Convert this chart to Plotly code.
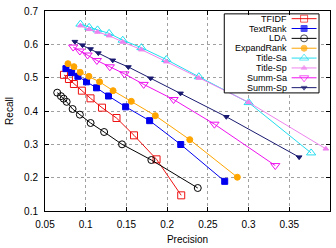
import plotly.graph_objects as go

# ---------------- data ----------------
tfidf_p = [0.0733, 0.0794, 0.0855, 0.0953, 0.1059, 0.1200, 0.1378, 0.1593, 0.1870, 0.2173]
tfidf_r = [0.5085, 0.4960, 0.4810, 0.4610, 0.4380, 0.4100, 0.3790, 0.3270, 0.2550, 0.1470]

textrank_p = [0.0757, 0.0827, 0.0904, 0.1010, 0.1133, 0.1280, 0.1490, 0.1785, 0.2167, 0.2707]
textrank_r = [0.5270, 0.5150, 0.5040, 0.4875, 0.4695, 0.4450, 0.4125, 0.3710, 0.2995, 0.1890]

lda_p = [0.0650, 0.0696, 0.0729, 0.0766, 0.0839, 0.0928, 0.1060, 0.1226, 0.1446, 0.1806, 0.2376]
lda_r = [0.4550, 0.4445, 0.4370, 0.4275, 0.4060, 0.3890, 0.3640, 0.3370, 0.3000, 0.2530, 0.1690]

expand_p = [0.0782, 0.0855, 0.0932, 0.1039, 0.1170, 0.1336, 0.1560, 0.1855, 0.2278, 0.2862]
expand_r = [0.5420, 0.5330, 0.5160, 0.5040, 0.4875, 0.4610, 0.4290, 0.3860, 0.3140, 0.2013]

titlesa_p = [0.0935, 0.1042, 0.1145, 0.1287, 0.1455, 0.1684, 0.1990, 0.2389, 0.3001, 0.3768]
titlesa_r = [0.6607, 0.6510, 0.6434, 0.6330, 0.6124, 0.5900, 0.5544, 0.5028, 0.4252, 0.2742]

titlesp_p = [0.0935, 0.1042, 0.1145, 0.1287, 0.1455, 0.1684, 0.1990, 0.2389, 0.3001, 0.3949]
titlesp_r = [0.6560, 0.6450, 0.6370, 0.6260, 0.6070, 0.5840, 0.5480, 0.4990, 0.4260, 0.2866]

summsa_p = [0.0846, 0.0928, 0.1023, 0.1137, 0.1296, 0.1476, 0.1712, 0.2079, 0.2581, 0.3328]
summsa_r = [0.5918, 0.5800, 0.5680, 0.5516, 0.5326, 0.5114, 0.4798, 0.4344, 0.3604, 0.2363]

summsp_p = [0.0867, 0.0961, 0.1059, 0.1155, 0.1332, 0.1524, 0.1797, 0.2164, 0.2727, 0.3621]
summsp_r = [0.6081, 0.5975, 0.5860, 0.5737, 0.5521, 0.5320, 0.4982, 0.4530, 0.3827, 0.2616]

series_names = ["TFIDF", "TextRank", "LDA", "ExpandRank", "Title-Sa", "Title-Sp", "Summ-Sa", "Summ-Sp"]

x_ticks = [0.05, 0.1, 0.15, 0.2, 0.25, 0.3, 0.35, 0.4]
x_tick_labels = ["0.05", "0.1", "0.15", "0.2", "0.25", "0.3", "0.35", "0.4"]
y_ticks = [0.1, 0.2, 0.3, 0.4, 0.5, 0.6, 0.7]
y_tick_labels = ["0.1", "0.2", "0.3", "0.4", "0.5", "0.6", "0.7"]

# ---------------- styles ----------------
series_data = [
    (tfidf_p, tfidf_r), (textrank_p, textrank_r), (lda_p, lda_r), (expand_p, expand_r),
    (titlesa_p, titlesa_r), (titlesp_p, titlesp_r), (summsa_p, summsa_r), (summsp_p, summsp_r),
]
styles = [
    dict(color="#ee1111", symbol="square-open", size=7),
    dict(color="#0000ee", symbol="square", size=6),
    dict(color="#000000", symbol="circle-open", size=7),
    dict(color="#ffa500", symbol="circle", size=6),
    dict(color="#22ddee", symbol="triangle-up-open", size=8),
    dict(color="#ee82ee", symbol="triangle-up", size=5),
    dict(color="#ee11ee", symbol="triangle-down-open", size=8),
    dict(color="#191970", symbol="triangle-down", size=5),
]

FONT = "Liberation Sans, Arial, Helvetica, sans-serif"

fig = go.Figure()

for name, (px, ry), st in zip(series_names, series_data, styles):
    fig.add_trace(go.Scatter(
        x=px, y=ry, name=name, mode="lines+markers",
        line=dict(color=st["color"], width=1),
        marker=dict(color=st["color"], symbol=st["symbol"], size=st["size"],
                    line=dict(color=st["color"], width=1)),
        showlegend=False, xaxis="x", yaxis="y",
    ))

# ---------------- manual gnuplot-style key (on an overlay axis in 0..1 units) ----------------
plot_top_px, plot_h_px = 5.0, 209.0
row_top_px, row_step_px = 13.0, 10.3
n_rows = len(series_names)


def to_unit(ypx):
    return 1 - (ypx - plot_top_px) / plot_h_px


box_x0, box_x1 = 0.629, 0.9615
box_y1 = to_unit(8.0)
box_y0 = to_unit(row_top_px + (n_rows - 1) * row_step_px + 5.5)
fig.add_trace(go.Scatter(
    x=[box_x0, box_x1, box_x1, box_x0, box_x0],
    y=[box_y0, box_y0, box_y1, box_y1, box_y0],
    mode="lines", fill="toself", fillcolor="white",
    line=dict(color="black", width=1), showlegend=False, hoverinfo="skip",
    xaxis="x2", yaxis="y2",
))

text_right = 0.853
samp_x0, samp_x1 = 0.8654, 0.9528
annotations = []
for i, (name, st) in enumerate(zip(series_names, styles)):
    yv = to_unit(row_top_px + i * row_step_px)
    xm = (samp_x0 + samp_x1) / 2
    fig.add_trace(go.Scatter(
        x=[samp_x0, xm, samp_x1], y=[yv, yv, yv], mode="lines+markers",
        line=dict(color=st["color"], width=1),
        marker=dict(color=st["color"], symbol=st["symbol"], size=[0, st["size"], 0],
                    line=dict(color=st["color"], width=1)),
        showlegend=False, hoverinfo="skip", xaxis="x2", yaxis="y2",
    ))
    annotations.append(dict(
        x=text_right, y=yv, xref="x2", yref="y2", text=name, showarrow=False,
        xanchor="right", yanchor="middle", borderpad=0,
        font=dict(family=FONT, size=9, color="black"),
    ))

fig.update_layout(
    width=336, height=248,
    margin=dict(l=45, r=5, t=5, b=34),
    paper_bgcolor="white", plot_bgcolor="white",
    font=dict(family=FONT, size=10, color="black"),
    showlegend=False,
    xaxis=dict(
        range=[0.05, 0.4], tickvals=x_ticks, ticktext=x_tick_labels,
        showline=True, linecolor="black", linewidth=1, mirror="ticks",
        ticks="inside", ticklen=4, tickcolor="black",
        showgrid=True, gridcolor="#a0a0a0", griddash="dot", gridwidth=1,
        zeroline=False, ticklabelstandoff=4,
        title=dict(text="Precision", font=dict(size=10), standoff=6),
    ),
    yaxis=dict(
        range=[0.1, 0.7], tickvals=y_ticks, ticktext=y_tick_labels,
        showline=True, linecolor="black", linewidth=1, mirror="ticks",
        ticks="inside", ticklen=4, tickcolor="black",
        showgrid=True, gridcolor="#a0a0a0", griddash="dot", gridwidth=1,
        zeroline=False, ticklabelstandoff=4,
        title=dict(text="Recall", font=dict(size=10), standoff=8),
    ),
    xaxis2=dict(range=[0, 1], overlaying="x", visible=False, fixedrange=True),
    yaxis2=dict(range=[0, 1], overlaying="y", visible=False, fixedrange=True),
    annotations=annotations,
)

fig.write_html("out.html")
